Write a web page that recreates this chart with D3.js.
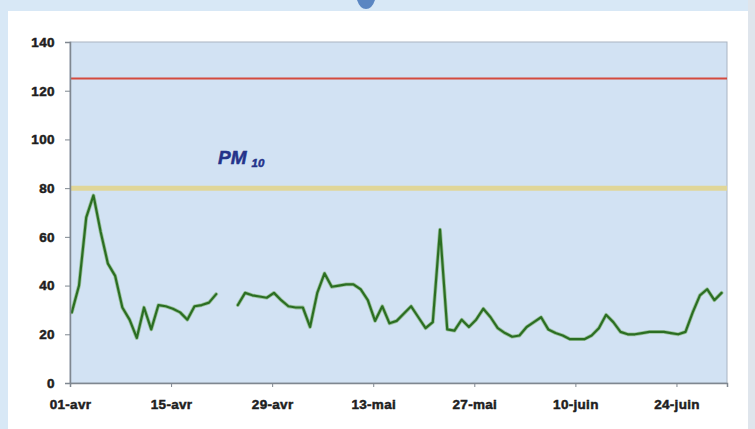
<!DOCTYPE html>
<html><head><meta charset="utf-8">
<script src="https://cdn.jsdelivr.net/npm/d3@7/dist/d3.min.js"></script>
<style>
html,body{margin:0;padding:0;background:#d8e8f6;}
svg{display:block;}
</style></head>
<body>
<svg id="chart" width="755" height="429"></svg>
<script>
// ---- data ----
const startDate = "2007-04-01";
const values = [29,40,68,77,62,49,44,31,26,18.5,31,22,32,31.5,30.5,29,26,31.5,32,33,36.5,
  null,null,
  32,37,36,35.5,35,37,34,31.5,31,31,23,37,45,39.5,40,40.5,40.5,38.5,34,25.5,31.5,24.5,25.5,28.5,31.5,27,22.5,25,
  63,22,21.5,26,23,26,30.5,27,22.5,20.5,19,19.5,23,25,27,22,20.5,19.5,18,18,18,19.5,22.5,28,25,21,20,20,20.5,21,21,21,20.5,20,21,29,36,38.5,34,37];
const yTicks = [0,20,40,60,80,100,120,140];
const xTickDays = [0,14,28,42,56,70,84];
const xTickLabels = ["01-avr","15-avr","29-avr","13-mai","27-mai","10-juin","24-juin"];
const limitRed = 125;
const limitYellow = 80;
const title = "PM", titleSub = "10";

// ---- layout ----
const svg = d3.select("#chart");
const L = 70, R = 727, T = 42, B = 383;

// outer decoration
svg.append("rect").attr("x",0).attr("y",0).attr("width",755).attr("height",429).attr("fill","#d8e8f6");
svg.append("rect").attr("x",748).attr("y",0).attr("width",7).attr("height",429).attr("fill","#dfe5ec");
svg.append("rect").attr("x",8).attr("y",11).attr("width",740).attr("height",418).attr("fill","#ffffff");
svg.append("path").attr("d","M357,0 L375,0 Q372,9 366,9 Q360,9 357,0 Z").attr("fill","#5b86c2");

const x = d3.scaleLinear().domain([-0.25, 90.75]).range([L, R]);
const y = d3.scaleLinear().domain([0, 140]).range([B, T]);

// plot area
svg.append("rect").attr("x",L).attr("y",T).attr("width",R-L).attr("height",B-T)
  .attr("fill","#d2e2f3").attr("stroke","#a9b4c2").attr("stroke-width",1);

// limit lines
svg.append("line").attr("x1",L).attr("x2",R).attr("y1",y(limitYellow)).attr("y2",y(limitYellow))
  .attr("stroke","#e0d698").attr("stroke-width",5);
svg.append("line").attr("x1",L).attr("x2",R).attr("y1",y(limitRed)).attr("y2",y(limitRed))
  .attr("stroke","#d44a3e").attr("stroke-width",2);

// data line
const line = d3.line().defined(d => d != null).x((d,i) => x(i)).y(d => y(d));
svg.append("path").datum(values).attr("d", line).attr("fill","none")
  .attr("stroke","#6aa556").attr("stroke-width",3.8).attr("stroke-linejoin","round").attr("stroke-linecap","round").attr("stroke-opacity",0.55);
svg.append("path").datum(values).attr("d", line).attr("fill","none")
  .attr("stroke","#2b6e22").attr("stroke-width",2.2).attr("stroke-linejoin","round").attr("stroke-linecap","round");

// axes
const font = "'Liberation Sans', Arial, sans-serif";
const yAxis = svg.append("g").attr("transform",`translate(${L},0)`)
  .call(d3.axisLeft(y).tickValues(yTicks).tickSize(5).tickPadding(10).tickFormat(d3.format("d")));
yAxis.select(".domain").attr("stroke","#7f8790").attr("stroke-width",1.5);
yAxis.selectAll(".tick line").attr("stroke","#7f8790");
yAxis.selectAll("text").attr("font-family",font).attr("font-weight","bold").attr("font-size",13.5)
  .attr("fill","#1e1e1e").attr("stroke","#1e1e1e").attr("stroke-width",0.5).style("letter-spacing","0.4px");

const xAxis = svg.append("g").attr("transform",`translate(0,${B})`)
  .call(d3.axisBottom(x).tickValues(xTickDays.map(d => d - 0.25)).tickSize(4).tickPadding(12)
    .tickFormat((d,i) => xTickLabels[i]));
xAxis.select(".domain").attr("stroke","#7f8790").attr("stroke-width",1.5);
xAxis.selectAll(".tick line").attr("stroke","#7f8790");
xAxis.selectAll("text").attr("font-family",font).attr("font-weight","bold").attr("font-size",13.5)
  .attr("fill","#1e1e1e").attr("stroke","#1e1e1e").attr("stroke-width",0.5).style("letter-spacing","0.3px");

// title
const t = svg.append("text").attr("x",218).attr("y",164).attr("font-family",font)
  .attr("font-weight","bold").attr("font-style","italic").attr("fill","#24338a")
  .attr("stroke","#24338a").attr("stroke-width",0.5);
t.append("tspan").attr("font-size",19).text(title);
t.append("tspan").attr("font-size",11.5).attr("dx",5).attr("dy",3).text(titleSub);
</script>
</body></html>
